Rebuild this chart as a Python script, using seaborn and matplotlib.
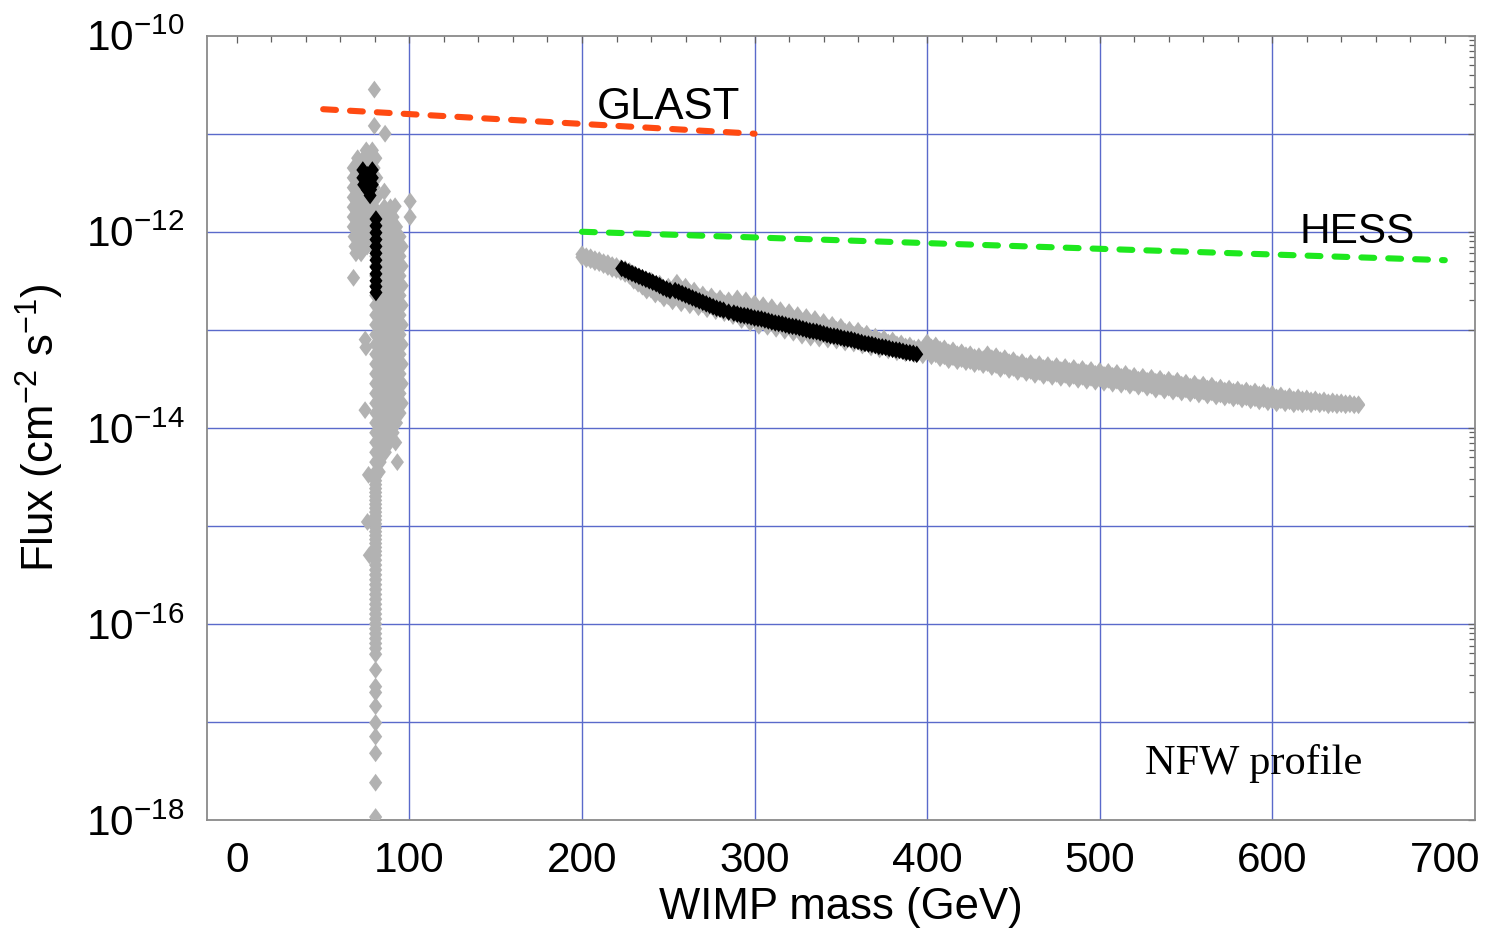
import numpy as np
import pandas as pd
import matplotlib
matplotlib.use("Agg")
import matplotlib.pyplot as plt
import seaborn as sns
from matplotlib.ticker import FixedLocator, FuncFormatter, NullFormatter

# ------------------------------------------------------------------ data
# experimental sensitivity lines (mass in GeV, log10 flux in cm^-2 s^-1)
glast_mass = [50, 300]
glast_logflux = [-10.75, -11.00]
hess_mass = [200, 700]
hess_logflux = [-12.00, -12.29]

# --- low-mass cluster (around the W mass), grey models
left_outlier_mass = [79.7, 79.7, 85.9, 85.5, 91.7, 100.4, 100.4, 67.6,
                     74.4, 74.8, 74.3, 76.3, 75.7, 76.8]
left_outlier_logflux = [-10.55, -10.92, -11.00, -11.59, -11.74, -11.69, -11.85, -12.47,
                        -13.10, -13.18, -13.82, -14.48, -14.96, -15.30]

left_blob_mass = [75, 78.5,
                  70, 73.5, 77.5, 80.5,
                  67.5, 71.5, 75.5, 79.5,
                  67.5, 69.5, 73.5, 77.5, 81,
                  67.5, 71.5, 75.5, 79.5,
                  67.5, 69.5, 73.5, 77.5, 81,
                  67.5, 71.5, 75.5, 79.5,
                  67.5, 69.5, 73.5, 77.5, 81,
                  67.5, 71.5, 75.5, 79.5,
                  68, 69.5, 73.5, 77.5, 81,
                  68.5, 71.5, 75.5, 79,
                  69, 72]
left_blob_logflux = [-11.17, -11.17,
                     -11.25, -11.25, -11.25, -11.25,
                     -11.35, -11.35, -11.35, -11.35,
                     -11.45, -11.45, -11.45, -11.45, -11.45,
                     -11.55, -11.55, -11.55, -11.55,
                     -11.65, -11.65, -11.65, -11.65, -11.65,
                     -11.75, -11.75, -11.75, -11.75,
                     -11.85, -11.85, -11.85, -11.85, -11.85,
                     -11.95, -11.95, -11.95, -11.95,
                     -12.05, -12.05, -12.05, -12.05, -12.05,
                     -12.15, -12.15, -12.15, -12.15,
                     -12.22, -12.22]

left_band_mass = [85.5, 89,
                  82.5, 86.5, 90.5,
                  84.5, 88.5, 92.5,
                  82.5, 86.5, 90.5, 94.5,
                  84.5, 88.5, 92.5, 95.8,
                  80.5, 82.5, 86.5, 90.5, 94.5,
                  80.5, 84.5, 88.5, 92.5, 95.8,
                  80.5, 82.5, 86.5, 90.5, 94.5,
                  80.5, 84.5, 88.5, 92.5, 95.8,
                  80.5, 82.5, 86.5, 90.5, 94.5,
                  80.5, 84.5, 88.5, 92.5, 95.8,
                  80.5, 82.5, 86.5, 90.5, 94.5,
                  80.5, 84.5, 88.5, 92.5, 95.8,
                  80.5, 82.5, 86.5, 90.5, 94.5,
                  80.5, 84.5, 88.5, 92.5, 95.8,
                  80.5, 82.5, 86.5, 90.5, 94.5,
                  80.5, 84.5, 88.5, 92.5, 95.8,
                  80.5, 82.5, 86.5, 90.5, 94.5,
                  80.5, 84.5, 88.5, 92.5, 95.8,
                  80.5, 82.5, 86.5, 90.5, 94.5,
                  80.5, 84.5, 88.5, 92.5, 95.8,
                  80.5, 82.5, 86.5, 90.5, 94.5,
                  80.5, 84.5, 88.5, 92.5,
                  80.5, 82.5, 86.5, 90.5,
                  80.5, 84.5, 88.5, 92,
                  80.5, 82.5, 86,
                  80.5, 83, 93,
                  80.5, 82.5]
left_band_logflux = [-11.75, -11.75,
                     -11.85, -11.85, -11.85,
                     -11.95, -11.95, -11.95,
                     -12.05, -12.05, -12.05, -12.05,
                     -12.15, -12.15, -12.15, -12.15,
                     -12.25, -12.25, -12.25, -12.25, -12.25,
                     -12.35, -12.35, -12.35, -12.35, -12.35,
                     -12.45, -12.45, -12.45, -12.45, -12.45,
                     -12.55, -12.55, -12.55, -12.55, -12.55,
                     -12.65, -12.65, -12.65, -12.65, -12.65,
                     -12.75, -12.75, -12.75, -12.75, -12.75,
                     -12.85, -12.85, -12.85, -12.85, -12.85,
                     -12.95, -12.95, -12.95, -12.95, -12.95,
                     -13.05, -13.05, -13.05, -13.05, -13.05,
                     -13.15, -13.15, -13.15, -13.15, -13.15,
                     -13.25, -13.25, -13.25, -13.25, -13.25,
                     -13.35, -13.35, -13.35, -13.35, -13.35,
                     -13.45, -13.45, -13.45, -13.45, -13.45,
                     -13.55, -13.55, -13.55, -13.55, -13.55,
                     -13.65, -13.65, -13.65, -13.65, -13.65,
                     -13.75, -13.75, -13.75, -13.75, -13.75,
                     -13.85, -13.85, -13.85, -13.85, -13.85,
                     -13.95, -13.95, -13.95, -13.95,
                     -14.05, -14.05, -14.05, -14.05,
                     -14.15, -14.15, -14.15, -14.15,
                     -14.25, -14.25, -14.25,
                     -14.35, -14.35, -14.35,
                     -14.45, -14.45]

# vertical column of models at the W mass, and its sparse tail
column_logflux = [-14.50, -14.54, -14.58, -14.62, -14.66, -14.70, -14.74, -14.78, -14.82, -14.86,
                  -14.90, -14.94, -14.98, -15.02, -15.06, -15.10, -15.14, -15.18, -15.22, -15.26,
                  -15.30, -15.35, -15.40, -15.45, -15.50, -15.55, -15.60, -15.65, -15.70, -15.75,
                  -15.80, -15.85, -15.90, -15.95, -16.00, -16.05, -16.10, -16.15, -16.20, -16.25,
                  -16.31, -16.47, -16.64, -16.70, -16.84, -17.01, -17.15, -17.32, -17.62, -17.97]
column_mass = [80.4] * len(column_logflux)

# --- low-mass cluster, black models
left_black_mass = [73, 78.5, 73, 75.7, 78.5, 73.5, 76, 78.5, 75.5, 77.5, 77.2,
                   80.6, 80.6, 80.6, 80.6, 80.6, 80.6, 80.6, 80.6, 80.6, 80.6, 80.6, 80.6]
left_black_logflux = [-11.37, -11.37, -11.45, -11.42, -11.45, -11.52, -11.50, -11.52, -11.57, -11.57, -11.63,
                      -11.87, -11.94, -12.01, -12.08, -12.15, -12.22, -12.29, -12.36, -12.43, -12.50, -12.56, -12.62]

# --- high-mass branch, grey models: four rows across the band
right_mass = [200, 205, 210, 215, 220, 225, 230, 235, 240, 245,
              250, 255, 260, 265, 270, 275, 280, 285, 290, 295,
              300, 305, 310, 315, 320, 325, 330, 335, 340, 345,
              350, 355, 360, 365, 370, 375, 380, 385, 390, 395,
              400, 405, 410, 415, 420, 425, 430, 435, 440, 445,
              450, 455, 460, 465, 470, 475, 480, 485, 490, 495,
              500, 505, 510, 515, 520, 525, 530, 535, 540, 545,
              550, 555, 560, 565, 570, 575, 580, 585, 590, 595,
              600, 605, 610, 615, 620, 625, 630, 635, 640, 645,
              650]
right_mass_half = [202.5, 207.5, 212.5, 217.5, 222.5, 227.5, 232.5, 237.5, 242.5, 247.5,
                   252.5, 257.5, 262.5, 267.5, 272.5, 277.5, 282.5, 287.5, 292.5, 297.5,
                   302.5, 307.5, 312.5, 317.5, 322.5, 327.5, 332.5, 337.5, 342.5, 347.5,
                   352.5, 357.5, 362.5, 367.5, 372.5, 377.5, 382.5, 387.5, 392.5, 397.5,
                   402.5, 407.5, 412.5, 417.5, 422.5, 427.5, 432.5, 437.5, 442.5, 447.5,
                   452.5, 457.5, 462.5, 467.5, 472.5, 477.5, 482.5, 487.5, 492.5, 497.5,
                   502.5, 507.5, 512.5, 517.5, 522.5, 527.5, 532.5, 537.5, 542.5, 547.5,
                   552.5, 557.5, 562.5, 567.5, 572.5, 577.5, 582.5, 587.5, 592.5, 597.5,
                   602.5, 607.5, 612.5, 617.5, 622.5, 627.5, 632.5, 637.5, 642.5, 647.5]
right_top_logflux = [-12.23, -12.26, -12.29, -12.32, -12.35, -12.38, -12.43, -12.47, -12.50, -12.53,
                     -12.56, -12.52, -12.56, -12.60, -12.64, -12.66, -12.68, -12.70, -12.68, -12.70,
                     -12.73, -12.75, -12.77, -12.80, -12.82, -12.85, -12.87, -12.89, -12.92, -12.95,
                     -12.97, -13.00, -13.01, -13.04, -13.07, -13.09, -13.11, -13.14, -13.16, -13.18,
                     -13.13, -13.16, -13.19, -13.21, -13.23, -13.25, -13.27, -13.25, -13.27, -13.29,
                     -13.31, -13.33, -13.34, -13.35, -13.36, -13.37, -13.38, -13.39, -13.40, -13.41,
                     -13.42, -13.43, -13.44, -13.45, -13.47, -13.48, -13.49, -13.50, -13.51, -13.52,
                     -13.54, -13.55, -13.56, -13.57, -13.59, -13.60, -13.61, -13.62, -13.63, -13.64,
                     -13.655, -13.67, -13.68, -13.69, -13.70, -13.71, -13.72, -13.73, -13.74, -13.75,
                     -13.76]
right_upper_logflux = [-12.25, -12.28, -12.31, -12.34, -12.37, -12.40, -12.46, -12.51, -12.55, -12.58,
                       -12.61, -12.59, -12.62, -12.66, -12.69, -12.71, -12.73, -12.75, -12.75, -12.78,
                       -12.81, -12.82, -12.84, -12.87, -12.89, -12.92, -12.94, -12.96, -12.98, -13.00,
                       -13.02, -13.05, -13.06, -13.09, -13.11, -13.13, -13.15, -13.17, -13.19, -13.21,
                       -13.18, -13.20, -13.23, -13.25, -13.26, -13.28, -13.30, -13.29, -13.31, -13.33,
                       -13.35, -13.37, -13.38, -13.39, -13.40, -13.41, -13.42, -13.43, -13.44, -13.45,
                       -13.46, -13.47, -13.48, -13.49, -13.51, -13.52, -13.53, -13.54, -13.55, -13.56,
                       -13.58, -13.59, -13.60, -13.61, -13.62, -13.63, -13.64, -13.65, -13.66, -13.67,
                       -13.69, -13.70, -13.71, -13.71, -13.72, -13.73, -13.74, -13.74, -13.75, -13.76]
right_lower_logflux = [-12.26, -12.29, -12.32, -12.36, -12.39, -12.43, -12.50, -12.56, -12.59, -12.63,
                       -12.66, -12.66, -12.69, -12.71, -12.74, -12.76, -12.78, -12.81, -12.83, -12.85,
                       -12.88, -12.90, -12.92, -12.94, -12.96, -12.99, -13.01, -13.02, -13.04, -13.06,
                       -13.08, -13.09, -13.11, -13.13, -13.16, -13.17, -13.19, -13.21, -13.22, -13.23,
                       -13.22, -13.25, -13.27, -13.28, -13.30, -13.32, -13.33, -13.34, -13.36, -13.37,
                       -13.39, -13.40, -13.42, -13.43, -13.44, -13.45, -13.46, -13.47, -13.48, -13.49,
                       -13.50, -13.51, -13.52, -13.53, -13.54, -13.55, -13.57, -13.58, -13.59, -13.60,
                       -13.61, -13.62, -13.63, -13.64, -13.66, -13.67, -13.68, -13.69, -13.70, -13.71,
                       -13.72, -13.72, -13.73, -13.74, -13.74, -13.74, -13.75, -13.76, -13.76, -13.76,
                       -13.77]
right_bottom_logflux = [-12.28, -12.31, -12.34, -12.38, -12.41, -12.45, -12.53, -12.60, -12.64, -12.68,
                        -12.71, -12.73, -12.75, -12.77, -12.79, -12.81, -12.83, -12.86, -12.90, -12.93,
                        -12.96, -12.97, -12.99, -13.01, -13.03, -13.06, -13.08, -13.09, -13.10, -13.11,
                        -13.13, -13.14, -13.16, -13.18, -13.20, -13.21, -13.23, -13.24, -13.25, -13.26,
                        -13.27, -13.29, -13.31, -13.32, -13.33, -13.35, -13.36, -13.38, -13.40, -13.41,
                        -13.43, -13.44, -13.46, -13.47, -13.48, -13.49, -13.50, -13.51, -13.52, -13.53,
                        -13.54, -13.55, -13.56, -13.57, -13.58, -13.59, -13.61, -13.62, -13.63, -13.64,
                        -13.65, -13.66, -13.67, -13.68, -13.69, -13.70, -13.71, -13.72, -13.73, -13.74,
                        -13.75, -13.75, -13.76, -13.76, -13.76, -13.76, -13.77, -13.77, -13.77, -13.77]

# --- high-mass branch, black models (two interleaved rows)
right_black_mass = [223, 227, 231, 235, 239, 243, 247, 251,
                    254, 258, 262, 266, 270, 274, 278, 282, 285,
                    288, 292, 296, 300, 304, 308, 312, 316, 320, 324, 328, 332, 336, 340,
                    344, 348, 352, 356, 360, 364, 368, 372, 376, 380, 384, 388, 392, 394]
right_black_logflux = [-12.375, -12.41, -12.44, -12.47, -12.50, -12.53, -12.57, -12.60,
                       -12.60, -12.63, -12.66, -12.69, -12.72, -12.75, -12.78, -12.80, -12.82,
                       -12.83, -12.85, -12.86, -12.88, -12.89, -12.91, -12.93, -12.94, -12.96, -12.97,
                       -12.99, -13.01, -13.02, -13.04,
                       -13.06, -13.07, -13.09, -13.10, -13.12, -13.14, -13.15, -13.17, -13.18, -13.20,
                       -13.21, -13.23, -13.24, -13.25]
right_black2_mass = [225, 229, 233, 237, 241, 245, 249,
                     256, 260, 264, 268, 272, 276, 280,
                     290, 294, 298, 302, 306, 310, 314, 318, 322, 326, 330, 334, 338,
                     342, 346, 350, 354, 358, 362, 366, 370, 374, 378, 382, 386, 390]
right_black2_logflux = [-12.39, -12.425, -12.455, -12.485, -12.515, -12.55, -12.585,
                        -12.615, -12.645, -12.675, -12.705, -12.735, -12.765, -12.79,
                        -12.84, -12.855, -12.87, -12.885, -12.90, -12.92, -12.935, -12.95, -12.965,
                        -12.98, -13.00, -13.015, -13.03,
                        -13.05, -13.065, -13.08, -13.095, -13.11, -13.13, -13.145, -13.16, -13.175,
                        -13.19, -13.205, -13.22, -13.235]

x_ticks = [0, 100, 200, 300, 400, 500, 600, 700]
y_decades = [-18, -17, -16, -15, -14, -13, -12, -11, -10]

# ------------------------------------------------------------------ frames
def frame(mass, logflux):
    return pd.DataFrame({"mass": mass, "flux": np.power(10.0, np.asarray(logflux, float))})

gray_df = pd.concat([
    frame(left_outlier_mass, left_outlier_logflux),
    frame(left_blob_mass, left_blob_logflux),
    frame(left_band_mass, left_band_logflux),
    frame(column_mass, column_logflux),
    frame(right_mass, right_top_logflux),
    frame(right_mass_half, right_upper_logflux),
    frame(right_mass, right_lower_logflux),
    frame(right_mass_half, right_bottom_logflux),
], ignore_index=True)
black_df = pd.concat([
    frame(left_black_mass, left_black_logflux),
    frame(right_black_mass, right_black_logflux),
    frame(right_black2_mass, right_black2_logflux),
], ignore_index=True)
glast_df = frame(glast_mass, glast_logflux)
hess_df = frame(hess_mass, hess_logflux)

# ------------------------------------------------------------------ style
sns.set_style("white")
plt.rcParams["font.family"] = ["Liberation Sans", "DejaVu Sans"]
plt.rcParams["text.color"] = "black"
plt.rcParams["axes.labelcolor"] = "black"
plt.rcParams["mathtext.fontset"] = "custom"
plt.rcParams["mathtext.rm"] = "Liberation Sans"
plt.rcParams["mathtext.it"] = "Liberation Sans:italic"
plt.rcParams["mathtext.bf"] = "Liberation Sans:bold"

fig = plt.figure(figsize=(14.89, 9.34), dpi=100)
ax = fig.add_axes([0.1388, 0.1221, 0.8518, 0.8397])
ax.set_yscale("log")
ax.set_xlim(-17.5, 717.5)
ax.set_ylim(1e-18, 1e-10)
ax.set_axisbelow(True)

diamond = [(0, 1), (0.74, 0), (0, -1), (-0.74, 0), (0, 1)]
sns.scatterplot(data=gray_df, x="mass", y="flux", ax=ax, color="#b2b2b2",
                marker=diamond, s=165, linewidth=0, edgecolor="none", zorder=3)
sns.scatterplot(data=black_df, x="mass", y="flux", ax=ax, color="black",
                marker=diamond, s=160, linewidth=0, edgecolor="none", zorder=4)

sns.lineplot(data=glast_df, x="mass", y="flux", ax=ax, color="#ff4a12",
             lw=4.4, zorder=5)
sns.lineplot(data=hess_df, x="mass", y="flux", ax=ax, color="#1ee81e",
             lw=4.4, zorder=5)
for ln in ax.get_lines():
    ln.set_dashes((2.1, 2.3))
    ln.set_dash_capstyle("round")

# ------------------------------------------------------------------ axes
ax.xaxis.set_major_locator(FixedLocator(x_ticks))
ax.xaxis.set_minor_locator(FixedLocator([v for v in range(0, 701, 20) if v % 100]))
ax.yaxis.set_major_locator(FixedLocator([10.0 ** d for d in y_decades]))
minor_y = [k * 10.0 ** d for d in (-17, -15, -13, -11) for k in range(2, 10)]
ax.yaxis.set_minor_locator(FixedLocator(minor_y))
ax.yaxis.set_minor_formatter(NullFormatter())

def yfmt(v, pos):
    e = int(round(np.log10(v)))
    return r"$\mathregular{10^{%d}}$" % e if e % 2 == 0 else ""
ax.yaxis.set_major_formatter(FuncFormatter(yfmt))

ax.tick_params(axis="both", which="both", direction="in", top=True, right=True,
               colors="#606060", labelcolor="black")
ax.tick_params(axis="both", which="major", length=5, width=0.9, labelsize=30.5)
ax.tick_params(axis="x", which="major", pad=15)
ax.tick_params(axis="y", which="major", pad=16)
ax.tick_params(axis="both", which="minor", length=4.5, width=0.9)

ax.grid(True, which="major", color="#5a6acb", lw=1.0)
for line, loc in zip(ax.get_xgridlines(), x_ticks):
    if loc in (0, 700):
        line.set_visible(False)
for line, d in zip(ax.get_ygridlines(), y_decades):
    if d in (-18, -10):
        line.set_visible(False)

for sp in ax.spines.values():
    sp.set_color("#8a8a8a")
    sp.set_linewidth(1.3)

ax.set_xlabel("WIMP mass (GeV)", fontsize=31.5)
ax.set_ylabel(r"Flux (cm$^{-2}$ s$^{-1}$)", fontsize=31.5)
ax.xaxis.set_label_coords(0.5, -0.085)
ax.yaxis.set_label_coords(-0.111, 0.5)

ax.text(208.7, 10 ** -10.853, "GLAST", fontsize=31.5, ha="left", va="baseline")
ax.text(616, 10 ** -12.112, "HESS", fontsize=30.5, ha="left", va="baseline")
ax.text(526.3, 10 ** -17.53, "NFW profile", fontsize=30.5, ha="left", va="baseline",
        family=["Liberation Serif", "DejaVu Serif"])

fig.savefig("out.png", dpi=100)
